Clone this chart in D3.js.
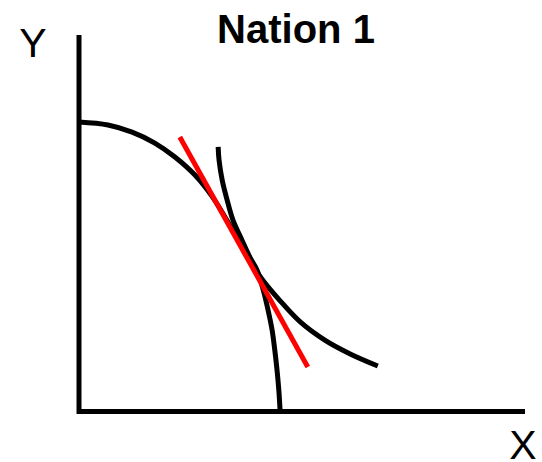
<!DOCTYPE html>
<html>
<head>
<meta charset="utf-8">
<script src="https://cdn.jsdelivr.net/npm/d3@7"></script>
<style>
  body { margin: 0; background: #fff; }
  svg { display: block; }
  text { font-family: "Liberation Sans", Arial, sans-serif; fill: #000; }
</style>
</head>
<body>
<svg></svg>
<script>
var w = 542,
    h = 462;

// curve points, in axis units (0..100 on both axes)
var ppfX = [0, 6.5, 11.9, 17.0, 21.5, 26.0, 29.8, 33.9, 37.9, 41.0, 45.1, 49.6, 55.2, 60.8, 67.0];
var ppfY = [76.9, 76.1, 74.2, 71.3, 67.6, 62.8, 57.2, 49.3, 41.0, 35.2, 29.4, 23.8, 18.9, 15.3, 12.1];

var steepX = [31.2, 31.4, 32.1, 33.2, 34.5, 36.5, 38.3, 39.9, 41.3, 42.4, 43.3, 43.9, 44.4, 44.8, 45.1];
var steepY = [70.3, 66.8, 61.5, 56.2, 50.9, 45.6, 41.0, 37.6, 32.3, 26.9, 21.6, 16.3, 11.0, 5.7, 0];

var priceX = [22.6, 51.3];
var priceY = [72.9, 11.8];

var title = "Nation 1",
    xLabel = "X",
    yLabel = "Y";

var svg = d3.select("svg")
    .attr("width", w)
    .attr("height", h);

var x = d3.scaleLinear().domain([0, 100]).range([79, 525]);
var y = d3.scaleLinear().domain([0, 100]).range([411.5, 35]);

function pts(xs, ys) {
    return xs.map((v, i) => [v, ys[i]]);
}

var straight = d3.line()
    .x(d => x(d[0]))
    .y(d => y(d[1]));

var smooth = d3.line()
    .x(d => x(d[0]))
    .y(d => y(d[1]))
    .curve(d3.curveCatmullRom.alpha(0.5));

// axes
svg.append("path")
    .attr("d", straight([[0, 100], [0, 0], [100, 0]]))
    .attr("fill", "none")
    .attr("stroke", "#000")
    .attr("stroke-width", 5)
    .attr("stroke-linejoin", "miter");

svg.append("path")
    .attr("d", smooth(pts(ppfX, ppfY)))
    .attr("fill", "none")
    .attr("stroke", "#000")
    .attr("stroke-width", 5);

svg.append("path")
    .attr("d", smooth(pts(steepX, steepY)))
    .attr("fill", "none")
    .attr("stroke", "#000")
    .attr("stroke-width", 5);

// price line on top
svg.append("path")
    .attr("d", straight(pts(priceX, priceY)))
    .attr("fill", "none")
    .attr("stroke", "#ff0000")
    .attr("stroke-width", 5);

svg.append("text")
    .attr("x", 296)
    .attr("y", 43)
    .attr("text-anchor", "middle")
    .style("font-size", "40px")
    .style("font-weight", "bold")
    .text(title);

svg.append("text")
    .attr("x", 33)
    .attr("y", 57)
    .attr("text-anchor", "middle")
    .style("font-size", "41px")
    .text(yLabel);

svg.append("text")
    .attr("x", 523)
    .attr("y", 459)
    .attr("text-anchor", "middle")
    .style("font-size", "41px")
    .text(xLabel);
</script>
</body>
</html>
